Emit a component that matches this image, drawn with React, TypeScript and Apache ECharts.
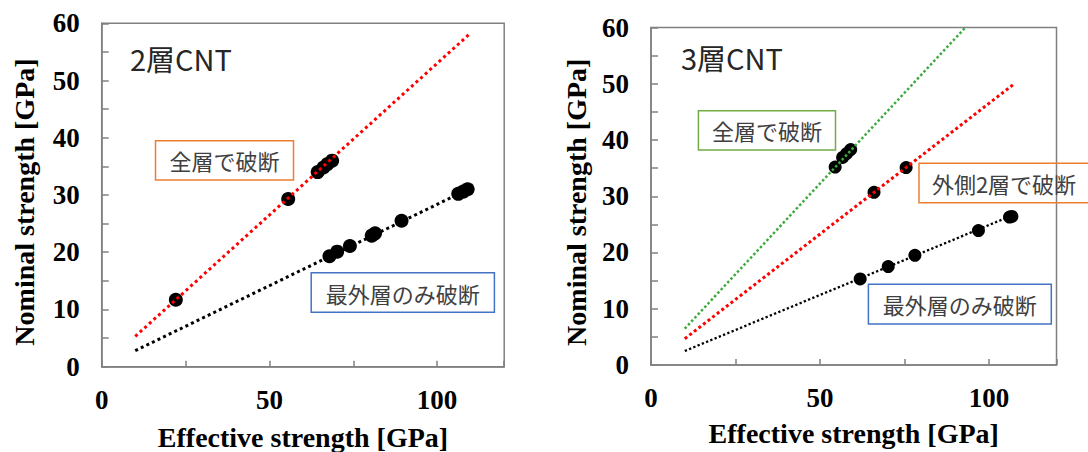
import React, { useEffect, useRef } from "react";
import * as echarts from "echarts";

// ---- data ----
// left panel: 2-layer CNT
const leftAllLayers: number[][] = [
  [22.1, 11.7], [55.6, 29.3], [64.4, 34.0], [66.1, 34.8], [67.3, 35.4], [68.7, 36.0],
];
const leftOuterOnly: number[][] = [
  [67.9, 19.3], [70.2, 20.1], [74.0, 21.1], [80.5, 22.9], [81.5, 23.3],
  [89.4, 25.5], [106.3, 30.2], [107.8, 30.6], [109.1, 31.0],
];
const leftAllFit: number[][] = [[10, 5.3], [110, 58.3]];
const leftOuterFit: number[][] = [[10, 2.8], [110, 31.2]];

// right panel: 3-layer CNT
const rightAllLayers: number[][] = [
  [54.5, 35.2], [56.7, 36.9], [57.9, 37.6], [59.1, 38.3],
];
const rightOuterTwo: number[][] = [[66.0, 30.7], [75.5, 35.1]];
const rightOuterOnly: number[][] = [
  [61.9, 15.3], [70.2, 17.5], [78.1, 19.5], [96.9, 23.9], [106.1, 26.3], [106.8, 26.4],
];
const rightAllFit: number[][] = [[10, 6.45], [93, 60]];
const rightOuterTwoFit: number[][] = [[10, 4.66], [107.5, 50]];
const rightOuterFit: number[][] = [[10, 2.48], [106.5, 26.5]];

// axis texts
const xAxisTitle = "Effective strength [GPa]";
const yAxisTitle = "Nominal strength [GPa]";
const leftPanelTitle = "2層CNT";
const rightPanelTitle = "3層CNT";
const labelAll = "全層で破断";
const labelOuter = "最外層のみ破断";
const labelOuterTwo = "外側2層で破断";

const SERIF = '"Liberation Serif", "Times New Roman", serif';
const SANS = '"Noto Sans CJK JP", "Noto Sans", sans-serif';
const AXIS_GRAY = "#808080";

function mkX(idx: number, nameGap: number) {
  return {
    type: "value",
    gridIndex: idx,
    min: 0,
    max: 120,
    interval: 25,
    name: xAxisTitle,
    nameLocation: "middle",
    nameGap,
    nameTextStyle: { fontFamily: SERIF, fontWeight: "bold", fontSize: 28, color: "#000" },
    axisLine: { show: true, lineStyle: { color: AXIS_GRAY, width: 1.5 } },
    axisTick: { show: true, inside: true, length: 6, lineStyle: { color: AXIS_GRAY, width: 1.5 } },
    axisLabel: {
      margin: 20,
      fontFamily: SERIF,
      fontWeight: "bold",
      fontSize: 27,
      color: "#000",
      formatter: (v: number) => (v % 50 === 0 ? String(v) : ""),
    },
    splitLine: { show: false },
  };
}

function mkY(idx: number, nameGap: number, shift: number) {
  return {
    type: "value",
    gridIndex: idx,
    min: 0,
    max: 60,
    interval: 5,
    name: yAxisTitle,
    nameLocation: "middle",
    nameGap,
    nameTextStyle: {
      fontFamily: SERIF,
      fontWeight: "bold",
      fontSize: 28,
      color: "#000",
      padding: [0, shift, 0, 0],
    },
    axisLine: { show: true, lineStyle: { color: AXIS_GRAY, width: 1.5 } },
    axisTick: { show: true, inside: true, length: 7, lineStyle: { color: AXIS_GRAY, width: 1.5 } },
    axisLabel: {
      margin: 22,
      fontFamily: SERIF,
      fontWeight: "bold",
      fontSize: 27,
      color: "#000",
      formatter: (v: number) => (v % 10 === 0 ? String(v) : ""),
    },
    splitLine: { show: false },
  };
}

function scatter(idx: number, data: number[][], size: number) {
  return {
    type: "scatter",
    xAxisIndex: idx,
    yAxisIndex: idx,
    data,
    symbol: "circle",
    symbolSize: size,
    itemStyle: { color: "#000", opacity: 1 },
    silent: true,
    z: 2,
  };
}

function fitLine(idx: number, data: number[][], color: string, width: number, dash: number[]) {
  return {
    type: "line",
    xAxisIndex: idx,
    yAxisIndex: idx,
    data,
    symbol: "none",
    showSymbol: false,
    lineStyle: { color, width, type: dash, cap: "butt", opacity: 1 },
    silent: true,
    z: 3,
  };
}

function box(x: number, y: number, w: number, h: number, stroke: string, text: string) {
  return [
    {
      type: "rect",
      shape: { x, y, width: w, height: h },
      style: { fill: "rgba(0,0,0,0)", stroke, lineWidth: 1.5 },
      z: 10,
      silent: true,
    },
    {
      type: "text",
      x: x + w / 2,
      y: y + h / 2,
      style: {
        text,
        fill: "#404040",
        font: `22px ${SANS}`,
        textAlign: "center",
        textVerticalAlign: "middle",
        align: "center",
        verticalAlign: "middle",
      },
      z: 11,
      silent: true,
    },
  ];
}

function panelTitle(x: number, y: number, text: string) {
  return {
    type: "text",
    x,
    y,
    style: {
      text,
      fill: "#262626",
      font: `29px ${SANS}`,
      textAlign: "left",
      textVerticalAlign: "middle",
      align: "left",
      verticalAlign: "middle",
    },
    z: 11,
    silent: true,
  };
}

export default function App() {
  const ref = useRef<HTMLDivElement>(null);

  useEffect(() => {
    if (!ref.current) return;
    const chart = echarts.init(ref.current, undefined, { renderer: "svg" });
    const option: any = {
      animation: false,
      backgroundColor: "#fff",
      grid: [
        {
          left: 101.7, top: 23.3, width: 402.5, height: 343.4,
          show: true, borderColor: AXIS_GRAY, borderWidth: 1.5,
          backgroundColor: "rgba(0,0,0,0)", containLabel: false, outerBoundsMode: "none",
        },
        {
          left: 651, top: 27.6, width: 405.5, height: 337.3,
          show: true, borderColor: AXIS_GRAY, borderWidth: 1.5,
          backgroundColor: "rgba(0,0,0,0)", containLabel: false, outerBoundsMode: "none",
        },
      ],
      xAxis: [mkX(0, 57), mkX(1, 55)],
      yAxis: [mkY(0, 63, 14), mkY(1, 61, 12)],
      series: [
        scatter(0, leftAllLayers, 14),
        scatter(0, leftOuterOnly, 14),
        fitLine(0, leftAllFit, "#ff0000", 3, [3, 3.2]),
        fitLine(0, leftOuterFit, "#000000", 3, [3, 3.2]),
        scatter(1, rightAllLayers, 13),
        scatter(1, rightOuterTwo, 13),
        scatter(1, rightOuterOnly, 13),
        fitLine(1, rightAllFit, "#3daa3d", 2.5, [2.5, 2.3]),
        fitLine(1, rightOuterTwoFit, "#ff0000", 3, [3, 2.8]),
        fitLine(1, rightOuterFit, "#000000", 2.3, [2.3, 2.3]),
      ],
      graphic: [
        panelTitle(130, 57.5, leftPanelTitle),
        panelTitle(681, 56.7, rightPanelTitle),
        ...box(155.5, 140.7, 138, 39.4, "#ED7D31", labelAll),
        ...box(311.2, 272.7, 183.2, 39.6, "#4472C4", labelOuter),
        ...box(698.4, 110.7, 137.1, 39.3, "#70AD47", labelAll),
        ...box(919, 163.3, 170, 39.4, "#ED7D31", labelOuterTwo),
        ...box(868.4, 284.3, 182.9, 39.7, "#4472C4", labelOuter),
      ],
    };
    chart.setOption(option);
    return () => {
      chart.dispose();
    };
  }, []);

  return (
    <div
      style={{
        position: "fixed",
        left: 0,
        top: 0,
        width: 1088,
        height: 452,
        background: "#fff",
        overflow: "hidden",
      }}
    >
      <div ref={ref} style={{ width: 1088, height: 452 }} />
    </div>
  );
}
